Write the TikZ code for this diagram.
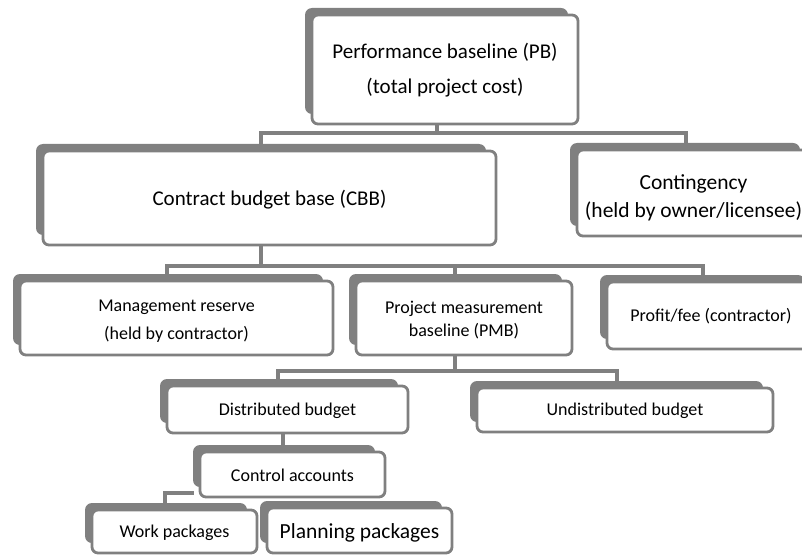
\documentclass[tikz,border=0pt]{standalone}
\usepackage{fontspec}
\setmainfont{Carlito}
\usetikzlibrary{backgrounds}
\definecolor{boxgray}{RGB}{128,128,128}
\tikzset{
  backplate/.style={fill=boxgray, rounded corners=7pt},
  frontbox/.style={draw=boxgray, fill=white, line width=2.8pt, rounded corners=6pt,
                   inner sep=0pt},
  boxtext/.style={align=center, inner sep=0pt, text=black},
  link/.style={draw=boxgray, line width=3.4pt},
}
% grey plate behind, white framed box in front, text placed from the box centre:
% name, x1, y1, x2, y2, text dx, text dy, font, text
\newcommand\tierbox[9]{%
  \fill[backplate] ({#2-7},{-(#3-7)}) rectangle ({#4-10},{-(#5-10)});
  \node[frontbox, minimum width={(#4-#2)*1pt}, minimum height={(#5-#3)*1pt}]
    (#1) at ({(#2+#4)/2},{-(#3+#5)/2}) {};
  \node[boxtext, font=#8] (#1-text) at ([shift={(#6,#7)}]#1.center) {#9};
}
\begin{document}
\begin{tikzpicture}[x=1pt,y=1pt]
\useasboundingbox (0,0) rectangle (802,-556);
\clip (0,0) rectangle (802,-556);

\tierbox{pb}{312}{15}{578}{124}{0}{-1}{\fontsize{21}{35}\selectfont}{Performance baseline (PB)\\(total project cost)}
\tierbox{cbb}{43}{151}{496}{245}{0}{-2}{\fontsize{21}{28}\selectfont}{Contract budget base (CBB)}
\tierbox{cont}{577}{150}{810}{236}{0}{-5}{\fontsize{21.5}{28}\selectfont}{Contingency\\(held by owner/licensee)}

\tierbox{mr}{20}{281}{333}{355}{0}{-3}{\fontsize{18}{28.5}\selectfont}{Management reserve\\(held by contractor)}
\tierbox{pmb}{356}{281}{572}{355}{0}{-2}{\fontsize{18}{23}\selectfont}{Project measurement\\baseline (PMB)}
\tierbox{prof}{607}{282}{815}{349}{0}{-1}{\fontsize{18}{22}\selectfont}{Profit/fee (contractor)}

\tierbox{dist}{167}{386}{408}{433}{0}{-1}{\fontsize{18}{22}\selectfont}{Distributed budget}
\tierbox{undist}{477}{388}{773}{432}{0}{-1}{\fontsize{18}{22}\selectfont}{Undistributed budget}

\tierbox{ctrl}{200}{452}{385}{497}{0}{-1}{\fontsize{18}{22}\selectfont}{Control accounts}

\tierbox{work}{92}{510}{257}{553}{0}{-1}{\fontsize{18}{22}\selectfont}{Work packages}
\tierbox{plan}{267}{508}{452}{553}{0}{-2}{\fontsize{21.5}{26}\selectfont}{Planning packages}

% bus lines between the tiers
\coordinate (b1) at (437,-133);
\coordinate (b1l) at (261,-133);
\coordinate (b1r) at (686,-133);
\coordinate (b2) at (261,-266);
\coordinate (b2l) at (167,-266);
\coordinate (b2m) at (455,-266);
\coordinate (b2r) at (703,-266);
\coordinate (b3) at (455,-371);
\coordinate (b3l) at (278,-371);
\coordinate (b3r) at (617,-371);
\coordinate (b4) at (283,0);
\coordinate (b5) at (165,-493);

\begin{scope}[on background layer]
  \draw[link] (pb.south -| b1) -- (b1);
  \draw[link] ([yshift=6pt]cbb.north -| b1l) -- (b1l) -- (b1r) -- ([yshift=6pt]cont.north -| b1r);

  \draw[link] (cbb.south -| b2) -- (b2);
  \draw[link] ([yshift=6pt]mr.north -| b2l) -- (b2l) -- (b2r) -- ([yshift=6pt]prof.north -| b2r);
  \draw[link] (b2m) -- ([yshift=6pt]pmb.north -| b2m);

  \draw[link] (pmb.south -| b3) -- (b3);
  \draw[link] ([yshift=6pt]dist.north -| b3l) -- (b3l) -- (b3r) -- ([yshift=6pt]undist.north -| b3r);

  \draw[link] (dist.south -| b4) -- ([yshift=6pt]ctrl.north -| b4);

  \draw[link] ([xshift=-5pt]ctrl.west |- b5) -- (b5) -- ([yshift=6pt]work.north -| b5);
\end{scope}
\end{tikzpicture}
\end{document}
